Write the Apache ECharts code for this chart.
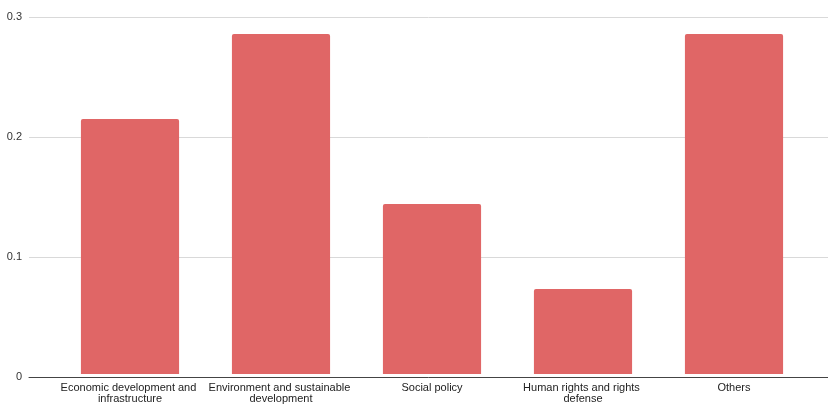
<!DOCTYPE html>
<html>
<head>
<meta charset="utf-8">
<script src="https://cdn.jsdelivr.net/npm/echarts@6/dist/echarts.min.js"></script>
<style>
  html, body { margin: 0; padding: 0; background: #fff; }
  #chart { width: 828px; height: 404px; }
</style>
</head>
<body>
<div id="chart"></div>
<script>
  var categories = [
    'Economic development and infrastructure',
    'Environment and sustainable development',
    'Social policy',
    'Human rights and rights defense',
    'Others'
  ];
  var shares = [3 / 14, 4 / 14, 2 / 14, 1 / 14, 4 / 14];
  var yTicks = { min: 0, max: 0.3, interval: 0.1 };

  var font = 'Liberation Sans, Arial, sans-serif';
  var chart = echarts.init(document.getElementById('chart'));
  chart.setOption({
    animation: false,
    grid: [
      // background grid with gridlines and y labels
      { left: 29, right: 0, top: 17, bottom: 27 },
      // bars
      { left: 54.5, right: 18.5, top: 17, bottom: 27 }
    ],
    xAxis: [{
      gridIndex: 0,
      type: 'value',
      min: 0,
      max: 1,
      axisLabel: { show: false },
      axisTick: { show: false },
      splitLine: { show: false },
      axisLine: { show: true, lineStyle: { color: '#444', width: 1 } },
      z: 5
    }, {
      gridIndex: 1,
      type: 'category',
      data: categories,
      axisLine: { show: false },
      axisTick: { show: false },
      axisLabel: {
        interval: 0,
        margin: 8,
        width: 150,
        overflow: 'break',
        fontFamily: font,
        fontSize: 11,
        lineHeight: 11,
        color: '#222'
      }
    }],
    yAxis: [{
      gridIndex: 0,
      type: 'value',
      min: yTicks.min,
      max: yTicks.max,
      interval: yTicks.interval,
      axisLine: { show: false },
      axisTick: { show: false },
      axisLabel: {
        margin: 7,
        fontFamily: font,
        fontSize: 11,
        color: '#333',
        formatter: function (v) { return v === 0 ? '0' : v.toFixed(1); }
      },
      splitLine: { lineStyle: { color: '#d9d9d9', width: 1 } }
    }, {
      gridIndex: 1,
      type: 'value',
      min: yTicks.min,
      max: yTicks.max,
      interval: yTicks.interval,
      show: false
    }],
    series: [{
      type: 'bar',
      xAxisIndex: 1,
      yAxisIndex: 1,
      data: shares,
      barCategoryGap: '35%',
      itemStyle: { color: '#e06666', borderRadius: [2, 2, 0, 0] }
    }]
  });
</script>
</body>
</html>
